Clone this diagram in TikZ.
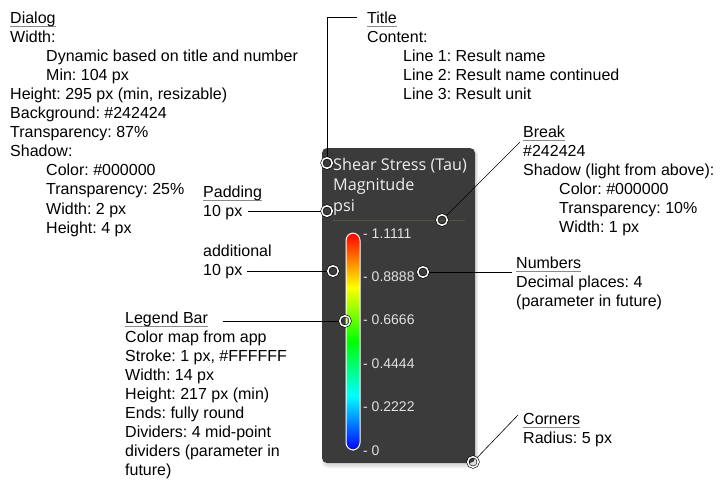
\documentclass[tikz,border=0pt]{standalone}
\usepackage{fontspec}
\setmainfont{Liberation Sans}
\newfontfamily\titlefont{Open Sans}
\frenchspacing
\definecolor{boxc}{HTML}{3B3B3B}
\definecolor{ulc}{HTML}{8A8A8A}
\definecolor{breakc}{HTML}{55543C}
\definecolor{titc}{HTML}{EEEEEE}
\definecolor{numc}{HTML}{E0E0E0}
\definecolor{jred}{rgb}{1,0,0}
\definecolor{jyellow}{rgb}{1,1,0}
\definecolor{jgreen}{rgb}{0,1,0}
\definecolor{jcyan}{rgb}{0,1,1}
\definecolor{jblue}{rgb}{0,0,1}
\pgfdeclareverticalshading{jetmap}{100bp}{color(0bp)=(jblue); color(25bp)=(jblue); color(37.5bp)=(jcyan); color(50bp)=(jgreen); color(62.5bp)=(jyellow); color(75bp)=(jred); color(100bp)=(jred)}
\newcommand\tblk[2][19.1pt]{\vtop{\baselineskip=#1\lineskiplimit=-30pt\lineskip=0pt #2}}
\newcommand\tl[1]{\hbox{#1}}
\newcommand\ti[1]{\hbox{\hskip36pt #1}}
\newcommand\hd[1]{\hbox{\setbox0\hbox{#1}\rlap{\color{ulc}\rule[-3.6pt]{\wd0}{0.8pt}}\box0}}
\tikzset{
  lab/.style={anchor=base west, inner sep=0pt, font=\fontsize{16}{19.1}\selectfont, text=black},
  tick/.style={anchor=base west, inner sep=0pt, font=\fontsize{14}{16}\selectfont, text=numc},
  dot/.style={circle, inner sep=0pt, minimum size=10.5pt, draw=black, line width=0.6pt, double=white, double distance=1.5pt},
  conn/.style={draw=black, line width=0.8pt},
}
\begin{document}
\begin{tikzpicture}[x=1pt, y=-1pt]
\useasboundingbox (0,0) rectangle (724,491);
\fill[white] (0,0) rectangle (724,491);
% dialog shadow and box
\fill[black, opacity=0.06, rounded corners=6pt] (322,149) rectangle (478,468);
\fill[black, opacity=0.08, rounded corners=5pt] (323,150) rectangle (477,466);
\fill[boxc, rounded corners=5pt] (322,148) rectangle (475,463);
% break line
\draw[breakc, line width=0.8pt] (333,220) -- (465,220);
% title text
\node[anchor=base west, inner sep=0pt, text=titc, font=\titlefont\fontsize{16.2}{20.5}\selectfont] (ttext) at (333,170)
  {\tblk[20.6pt]{\tl{Shear Stress (Tau)}\tl{Magnitude}\tl{psi}}};
% legend bar
\path[shading=jetmap, rounded corners=7.5pt] (346,233) rectangle (360,450);
\draw[white, line width=1pt, rounded corners=7.5pt] (346,233) rectangle (360,450);
% ticks
\node[tick] (n1) at (363,238) {- 1.1111};
\node[tick] (n2) at (363,281.4) {- 0.8888};
\node[tick] (n3) at (363,324.8) {- 0.6666};
\node[tick] (n4) at (363,368.2) {- 0.4444};
\node[tick] (n5) at (363,411.6) {- 0.2222};
\node[tick] (n6) at (363,455) {- 0};
% annotation texts
\node[lab] (dialog) at (10,23) {\tblk{\hd{Dialog}\tl{Width:}\ti{Dynamic based on title and number}\ti{Min: 104 px}\tl{Height: 295 px (min, resizable)}\tl{Background: \#242424}\tl{Transparency: 87\%}\tl{Shadow:}\ti{Color: \#000000}\ti{Transparency: 25\%}\ti{Width: 2 px}\ti{Height: 4 px}}};
\node[lab] (title) at (367,23) {\tblk{\hd{Title}\tl{Content:}\ti{Line 1: Result name}\ti{Line 2: Result name continued}\ti{Line 3: Result unit}}};
\node[lab] (padding) at (203,197) {\tblk{\hd{Padding}\tl{10 px}}};
\node[lab] (addit) at (203,256) {\tblk{\tl{additional}\tl{10 px}}};
\node[lab] (legend) at (125,323) {\tblk{\hd{Legend Bar}\tl{Color map from app}\tl{Stroke: 1 px, \#FFFFFF}\tl{Width: 14 px}\tl{Height: 217 px (min)}\tl{Ends: fully round}\tl{Dividers: 4 mid-point}\tl{dividers (parameter in}\tl{future)}}};
\node[lab] (break) at (523,137) {\tblk{\hd{Break}\tl{\#242424}\tl{Shadow (light from above):}\ti{Color: \#000000}\ti{Transparency: 10\%}\ti{Width: 1 px}}};
\node[lab] (numbers) at (516,268) {\tblk{\hd{Numbers}\tl{Decimal places: 4}\tl{(parameter in future)}}};
\node[lab] (corners) at (523,424) {\tblk{\hd{Corners}\tl{Radius: 5 px}}};
% marker circles
\node[dot] (ctitle) at (327,163) {};
\node[dot] (cpad) at (327,211) {};
\node[dot] (cadd) at (333,271) {};
\node[dot] (cbreak) at (442,220) {};
\node[dot] (cnum) at (423,272) {};
\node[dot] (cleg) at (345,321) {};
\node[dot] (ccorn) at (473,462) {};
% connector free ends
\coordinate (etitle) at (357,17);
\coordinate (epad) at (248,211);
\coordinate (eadd) at (247,271);
\coordinate (eleg) at (223,321);
\coordinate (ebreak) at (520,142);
\coordinate (enum) at (512,272);
\coordinate (ecorn) at (518,415);
% connectors
\draw[conn] (etitle) -| (ctitle);
\draw[conn] (epad) -- (cpad);
\draw[conn] (eadd) -- (cadd);
\draw[conn] (eleg) -- (cleg);
\draw[conn, line width=0.6pt] (cbreak) -- (ebreak);
\draw[conn] (cnum) -- (enum);
\draw[conn, line width=0.6pt] (ccorn) -- (ecorn);
\end{tikzpicture}
\end{document}
